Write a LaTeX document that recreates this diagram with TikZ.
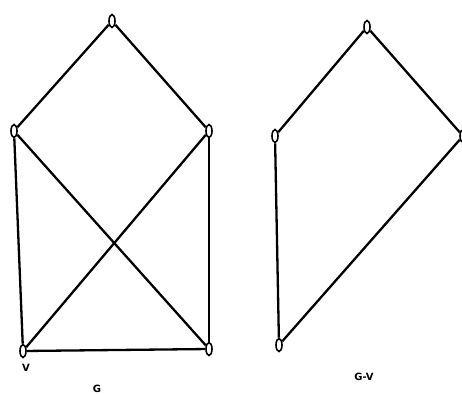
\documentclass[tikz,border=0pt]{standalone}
\usepackage{fontspec}
\newfontfamily\labelfont{DejaVu Sans}
\usetikzlibrary{shapes.geometric}
\tikzset{
	vtx/.style={draw, ellipse, fill=white, line width=1.6pt, minimum width=6pt, minimum height=13pt, inner sep=0pt},
	edge/.style={line width=2.3pt},
	lbl/.style={font=\labelfont\bfseries\fontsize{10}{12}\selectfont, inner sep=0pt}
}
\begin{document}
\begin{tikzpicture}[x=1pt,y=-1pt]
	\useasboundingbox (0,0) rectangle (462,394);
	
	% Graph G
	\node[vtx] (gTop) at (112,21) {};
	\node[vtx] (gLeft) at (14,131) {};
	\node[vtx] (gRight) at (209,131) {};
	\node[vtx] (gV) at (23,351) {};
	\node[vtx] (gBR) at (209,349) {};
	
	\draw[edge] (gTop) -- (gLeft);
	\draw[edge] (gTop) -- (gRight);
	\draw[edge] (gLeft) -- (gV);
	\draw[edge] (gRight) -- (gBR);
	\draw[edge] (gLeft) -- (gBR);
	\draw[edge] (gRight) -- (gV);
	\draw[edge] (gV) -- (gBR);
	
	\node[lbl] (vLbl) at (26,368) {V};
	\node[lbl] (gLbl) at (97,389) {G};
	
	% Graph G-V
	\node[vtx] (hTop) at (367,27) {};
	\node[vtx] (hLeft) at (275,136) {};
	\node[vtx] (hRight) at (463,136) {};
	\node[vtx] (hBottom) at (279,345) {};
	
	\draw[edge] (hTop) -- (hLeft);
	\draw[edge] (hTop) -- (hRight);
	\draw[edge] (hLeft) -- (hBottom);
	\draw[edge] (hRight) -- (hBottom);
	
	\node[lbl] (hLbl) at (364,377) {G-V};
\end{tikzpicture}
\end{document}
